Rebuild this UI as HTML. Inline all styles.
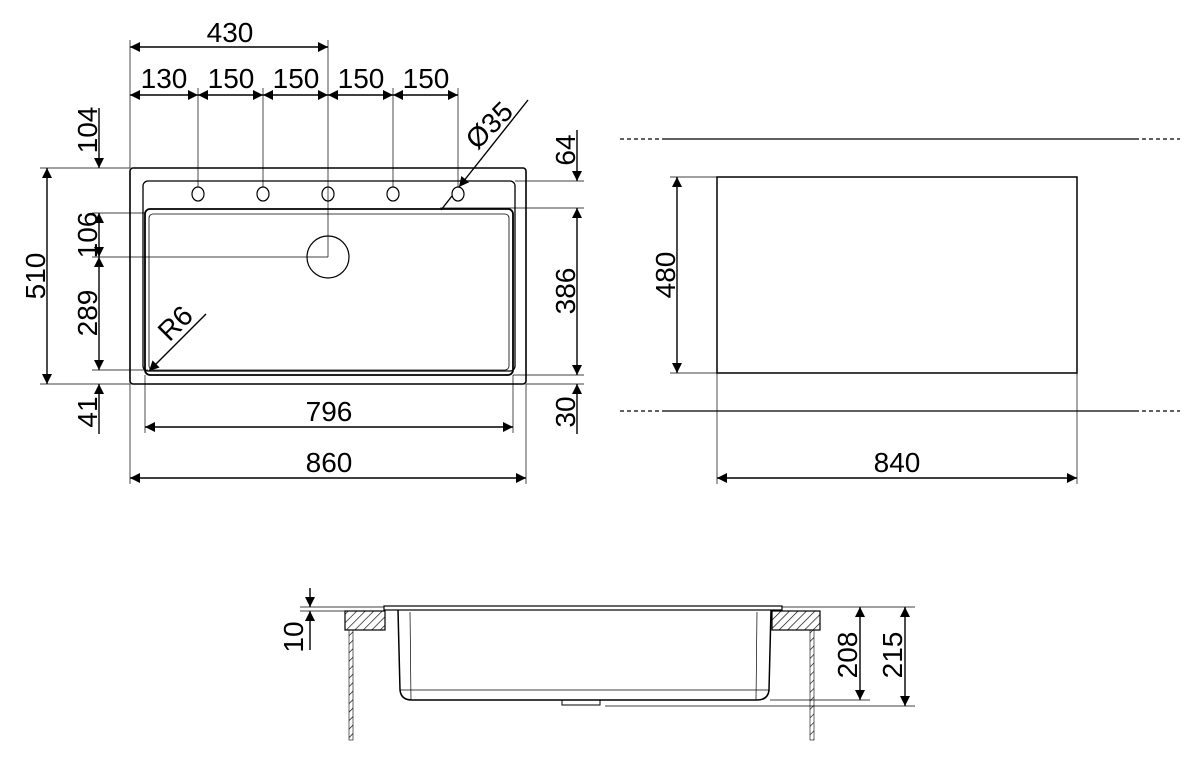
<!DOCTYPE html>
<html><head><meta charset="utf-8"><style>
html,body{margin:0;padding:0;background:#fff}
svg{display:block}
text{font-family:"Liberation Sans",Arial,sans-serif;font-size:28px;fill:#000}
</style></head><body>
<svg width="1201" height="763" viewBox="0 0 1201 763" xmlns="http://www.w3.org/2000/svg">
<defs>
<marker id="a" viewBox="0 0 10 10" refX="10" refY="5" markerWidth="14" markerHeight="10" markerUnits="userSpaceOnUse" orient="auto-start-reverse"><path d="M0,0 L10,5 L0,10 z" fill="#000"/></marker>
<pattern id="h" width="6" height="6" patternUnits="userSpaceOnUse" patternTransform="rotate(45)"><line x1="0" y1="0" x2="0" y2="6" stroke="#000" stroke-width="1.3"/></pattern>
</defs>
<g stroke="#000" fill="none">
<rect x="130" y="168" width="396" height="216" rx="3" stroke-width="1.6"/>
<rect x="143" y="181" width="372" height="190" rx="5" stroke-width="1.3"/>
<rect x="145" y="209" width="368" height="166" rx="5" stroke-width="1.8"/>
<rect x="149" y="214" width="360" height="156" rx="4" stroke-width="0.8"/>
<g stroke-width="1.2">
<ellipse cx="198" cy="194" rx="6" ry="7"/><ellipse cx="263" cy="194" rx="6" ry="7"/><ellipse cx="328" cy="194" rx="6" ry="7"/><ellipse cx="393" cy="194" rx="6" ry="7"/><ellipse cx="458" cy="194" rx="6" ry="7"/>
<circle cx="328" cy="257" r="21"/>
</g>
<g stroke-width="0.7">
<line x1="130" y1="40" x2="130" y2="168"/><line x1="328" y1="40" x2="328" y2="257"/>
<line x1="198" y1="88" x2="198" y2="187"/><line x1="263" y1="88" x2="263" y2="187"/><line x1="393" y1="88" x2="393" y2="187"/><line x1="458" y1="88" x2="458" y2="187"/>
<line x1="40" y1="168" x2="130" y2="168"/><line x1="40" y1="384" x2="130" y2="384"/>
<line x1="92" y1="213" x2="145" y2="213"/><line x1="92" y1="257" x2="328" y2="257"/><line x1="92" y1="370" x2="148" y2="370"/>
<line x1="515" y1="181" x2="584" y2="181"/><line x1="440" y1="208" x2="584" y2="208"/><line x1="513" y1="375" x2="584" y2="375"/><line x1="526" y1="384" x2="584" y2="384"/>
<line x1="130" y1="384" x2="130" y2="484"/><line x1="526" y1="384" x2="526" y2="484"/>
<line x1="145" y1="375" x2="145" y2="433"/><line x1="513" y1="375" x2="513" y2="433"/>
</g>
<g stroke-width="1.4">
<line x1="130" y1="47" x2="328" y2="47" marker-start="url(#a)" marker-end="url(#a)"/>
<line x1="130" y1="95" x2="198" y2="95" marker-start="url(#a)" marker-end="url(#a)"/>
<line x1="198" y1="95" x2="263" y2="95" marker-start="url(#a)" marker-end="url(#a)"/>
<line x1="263" y1="95" x2="328" y2="95" marker-start="url(#a)" marker-end="url(#a)"/>
<line x1="328" y1="95" x2="393" y2="95" marker-start="url(#a)" marker-end="url(#a)"/>
<line x1="393" y1="95" x2="458" y2="95" marker-start="url(#a)" marker-end="url(#a)"/>
<line x1="47" y1="168" x2="47" y2="384" marker-start="url(#a)" marker-end="url(#a)"/>
<line x1="99" y1="108" x2="99" y2="168" marker-end="url(#a)"/>
<line x1="99" y1="213" x2="99" y2="257" marker-start="url(#a)" marker-end="url(#a)"/>
<line x1="99" y1="257" x2="99" y2="370" marker-start="url(#a)" marker-end="url(#a)"/>
<line x1="99" y1="434" x2="99" y2="384" marker-end="url(#a)"/>
<line x1="577" y1="130" x2="577" y2="181" marker-end="url(#a)"/>
<line x1="577" y1="208" x2="577" y2="375" marker-start="url(#a)" marker-end="url(#a)"/>
<line x1="577" y1="434" x2="577" y2="384" marker-end="url(#a)"/>
<line x1="145" y1="427" x2="513" y2="427" marker-start="url(#a)" marker-end="url(#a)"/>
<line x1="130" y1="478" x2="526" y2="478" marker-start="url(#a)" marker-end="url(#a)"/>
<line x1="528" y1="100" x2="459" y2="187" marker-end="url(#a)"/>
<line x1="452" y1="196" x2="441" y2="210"/>
<line x1="206" y1="314" x2="149" y2="371" marker-end="url(#a)"/>
</g>
<g stroke-width="1.2">
<line x1="620" y1="139" x2="665" y2="139" stroke-dasharray="4,3"/><line x1="665" y1="139" x2="1135" y2="139"/><line x1="1135" y1="139" x2="1180" y2="139" stroke-dasharray="4,3"/>
<line x1="620" y1="411" x2="665" y2="411" stroke-dasharray="4,3"/><line x1="665" y1="411" x2="1135" y2="411"/><line x1="1135" y1="411" x2="1180" y2="411" stroke-dasharray="4,3"/>
</g>
<rect x="717" y="177" width="360" height="196" stroke-width="1.5"/>
<g stroke-width="0.7">
<line x1="670" y1="177" x2="717" y2="177"/><line x1="670" y1="373" x2="717" y2="373"/>
<line x1="717" y1="373" x2="717" y2="484"/><line x1="1077" y1="373" x2="1077" y2="484"/>
</g>
<g stroke-width="1.4">
<line x1="677" y1="177" x2="677" y2="373" marker-start="url(#a)" marker-end="url(#a)"/>
<line x1="717" y1="478" x2="1077" y2="478" marker-start="url(#a)" marker-end="url(#a)"/>
</g>
<rect x="384" y="606" width="398" height="4" stroke-width="1.2"/>
<rect x="345" y="611" width="40" height="19" fill="url(#h)" stroke-width="1.2"/>
<rect x="772" y="611" width="48" height="19" fill="url(#h)" stroke-width="1.2"/>
<rect x="349" y="630" width="4" height="110" fill="url(#h)" stroke-width="0.6"/>
<rect x="810" y="630" width="4" height="110" fill="url(#h)" stroke-width="0.6"/>
<path d="M398 610 L400 690 Q401 700 412 700 L757 700 Q768 700 769 690 L771 610" stroke-width="1.5"/>
<g stroke-width="0.7">
<line x1="410" y1="612" x2="411" y2="700"/><line x1="757" y1="612" x2="756" y2="700"/>
<line x1="400" y1="690" x2="769" y2="690"/>
<line x1="300" y1="607" x2="384" y2="607"/><line x1="300" y1="611" x2="345" y2="611"/>
<line x1="782" y1="607" x2="915" y2="607"/><line x1="770" y1="700" x2="870" y2="700"/><line x1="605" y1="706" x2="915" y2="706"/>
</g>
<rect x="562" y="700" width="38" height="5" stroke-width="1"/>
<g stroke-width="1.4">
<line x1="310" y1="588" x2="310" y2="607" marker-end="url(#a)"/>
<line x1="310" y1="650" x2="310" y2="611" marker-end="url(#a)"/>
<line x1="860" y1="607" x2="860" y2="700" marker-start="url(#a)" marker-end="url(#a)"/>
<line x1="905" y1="607" x2="905" y2="706" marker-start="url(#a)" marker-end="url(#a)"/>
</g>
</g>
<g text-anchor="middle">
<text x="230" y="42">430</text>
<text x="164" y="88">130</text><text x="231" y="88">150</text><text x="296" y="88">150</text><text x="361" y="88">150</text><text x="426" y="88">150</text>
<text transform="translate(45,276) rotate(-90)">510</text>
<text transform="translate(97,130) rotate(-90)">104</text>
<text transform="translate(97,235) rotate(-90)">106</text>
<text transform="translate(97,313) rotate(-90)">289</text>
<text transform="translate(97,412) rotate(-90)">41</text>
<text transform="translate(575,150) rotate(-90)">64</text>
<text transform="translate(575,291) rotate(-90)">386</text>
<text transform="translate(575,412) rotate(-90)">30</text>
<text transform="translate(496,132) rotate(-45)">Ø35</text>
<text transform="translate(182,330) rotate(-45)">R6</text>
<text x="329" y="421">796</text>
<text x="329" y="472">860</text>
<text transform="translate(675,275) rotate(-90)">480</text>
<text x="897" y="472">840</text>
<text transform="translate(303,637) rotate(-90)">10</text>
<text transform="translate(857,655) rotate(-90)">208</text>
<text transform="translate(902,655) rotate(-90)">215</text>
</g>
</svg>
</body></html>
